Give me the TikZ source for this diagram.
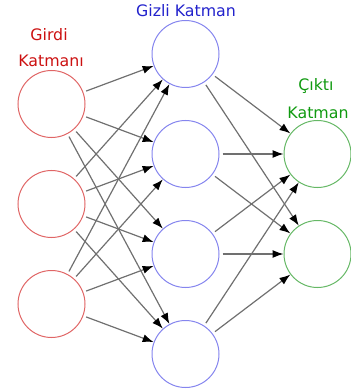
\documentclass[tikz,border=0pt]{standalone}
\usepackage{fontspec}
\setmainfont{DejaVu Sans}
\usetikzlibrary{arrows.meta}
\definecolor{incirc}{HTML}{E06666}
\definecolor{intext}{HTML}{CC1111}
\definecolor{hidcirc}{HTML}{8585EE}
\definecolor{hidtext}{HTML}{2222CC}
\definecolor{outcirc}{HTML}{66B866}
\definecolor{outtext}{HTML}{109A10}
\definecolor{linegray}{HTML}{707070}
\begin{document}
\begin{tikzpicture}[x=1pt,y=-1pt,
  neuron/.style={circle,draw,line width=1pt,minimum size=67pt,inner sep=0pt},
  inn/.style={neuron,draw=incirc},
  hid/.style={neuron,draw=hidcirc},
  outn/.style={neuron,draw=outcirc},
  conn/.style={draw=linegray,line width=1.2pt,shorten <=3pt,
    -{Latex[length=11pt,width=8pt,color=black]}},
  lbl/.style={anchor=base,inner sep=0pt,font=\fontsize{15.8}{18}\selectfont}]
\useasboundingbox (0,0) rectangle (350,390);
\node[inn] (i1) at (51.5,104) {};
\node[inn] (i2) at (51.5,204) {};
\node[inn] (i3) at (51.5,304) {};
\node[hid] (h1) at (185.5,54) {};
\node[hid] (h2) at (185.5,154) {};
\node[hid] (h3) at (185.5,254) {};
\node[hid] (h4) at (185.5,354) {};
\node[outn] (o1) at (317.5,154) {};
\node[outn] (o2) at (317.5,254) {};
\node[lbl,text=intext] (t1) at (49,41) {Girdi};
\node[lbl,text=intext] (t2) at (51,66.5) {Katmanı};
\node[lbl,text=hidtext] (t3) at (186,17) {Gizli Katman};
\node[lbl,text=outtext] (t4) at (316,90.5) {Çıktı};
\node[lbl,text=outtext] (t5) at (318,119) {Katman};
\foreach \i in {1,2,3}{
  \foreach \h in {1,2,3,4}{
    \draw[conn] (i\i) -- (h\h);
  }
}
\foreach \h in {1,2,3,4}{
  \foreach \o in {1,2}{
    \draw[conn] (h\h) -- (o\o);
  }
}
\end{tikzpicture}
\end{document}
